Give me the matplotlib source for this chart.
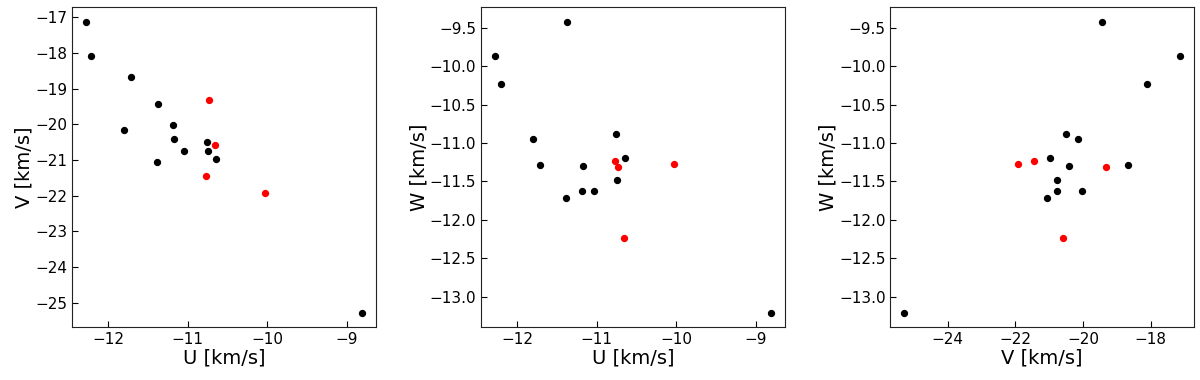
import numpy as np
import matplotlib
matplotlib.use("Agg")
import matplotlib.pyplot as plt

# Velocity components [km/s]
U_black = [-12.28, -12.21, -11.71, -11.37, -11.80, -11.18, -11.17, -11.04, -11.39, -10.76, -10.74, -10.64, -8.81]
V_black = [-17.13, -18.10, -18.68, -19.44, -20.15, -20.02, -20.41, -20.76, -21.05, -20.50, -20.76, -20.98, -25.28]
W_black = [-9.86, -10.23, -11.28, -9.42, -10.95, -11.63, -11.30, -11.63, -11.71, -10.88, -11.48, -11.20, -13.21]

U_red = [-10.73, -10.66, -10.77, -10.03]
V_red = [-19.33, -20.59, -21.45, -21.92]
W_red = [-11.31, -12.24, -11.23, -11.27]

plt.rcParams.update({
    "font.family": "DejaVu Sans",
    "axes.labelsize": 14,
    "xtick.labelsize": 11,
    "ytick.labelsize": 11,
    "axes.edgecolor": "#222222",
})

fig = plt.figure(figsize=(12, 3.8), dpi=100)
lefts = [0.060, 0.401, 0.742]
w, h = 0.253, 0.842
bottom = 0.139

pairs = [
    (U_black, V_black, U_red, V_red, "U [km/s]", "V [km/s]"),
    (U_black, W_black, U_red, W_red, "U [km/s]", "W [km/s]"),
    (V_black, W_black, V_red, W_red, "V [km/s]", "W [km/s]"),
]

for left, (xb, yb, xr, yr, xl, yl) in zip(lefts, pairs):
    ax = fig.add_axes([left, bottom, w, h])
    ax.scatter(xb, yb, s=18, color="black", zorder=3)
    ax.scatter(xr, yr, s=18, color="red", zorder=3)
    ax.set_xlabel(xl, labelpad=1)
    ax.set_ylabel(yl, labelpad=1)
    ax.tick_params(direction="in", length=4, width=0.8)

fig.savefig("out.png", dpi=100)
